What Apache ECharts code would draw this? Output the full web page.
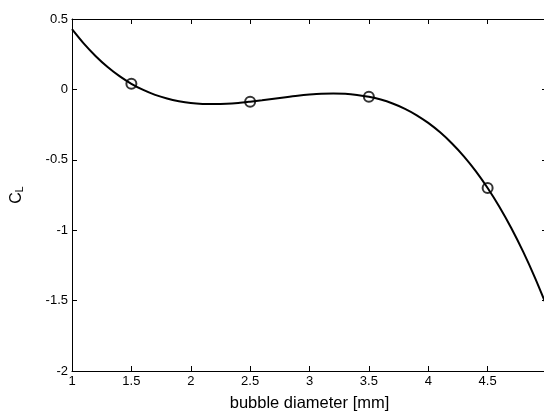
<!DOCTYPE html>
<html lang="en">
<head>
  <meta charset="UTF-8">
  <title>CL vs bubble diameter</title>
  <style>
    html, body { margin: 0; padding: 0; background: #fff; }
    #main { width: 544px; height: 414px; }
  </style>
</head>
<body>
  <div id="main"></div>
  <script src="https://cdn.jsdelivr.net/npm/echarts@6/dist/echarts.min.js"></script>
  <script>
    // curve, every 0.1 mm
    const diameter = [1.0, 1.1, 1.2, 1.3, 1.4, 1.5, 1.6, 1.7, 1.8, 1.9,
      2.0, 2.1, 2.2, 2.3, 2.4, 2.5, 2.6, 2.7, 2.8, 2.9,
      3.0, 3.1, 3.2, 3.3, 3.4, 3.5, 3.6, 3.7, 3.8, 3.9,
      4.0, 4.1, 4.2, 4.3, 4.4, 4.5, 4.6, 4.7, 4.8, 4.9, 5.0];
    const cl = [0.428, 0.325, 0.236, 0.159, 0.094, 0.040, -0.004, -0.039, -0.065, -0.084,
      -0.097, -0.103, -0.104, -0.102, -0.096, -0.087, -0.077, -0.066, -0.055, -0.045,
      -0.037, -0.031, -0.029, -0.031, -0.039, -0.052, -0.072, -0.100, -0.136, -0.182,
      -0.238, -0.305, -0.384, -0.475, -0.580, -0.700, -0.835, -0.986, -1.154, -1.340, -1.544];

    // measured points (circles)
    const pointD = [1.5, 2.5, 3.5, 4.5];
    const pointCl = [0.04, -0.087, -0.052, -0.70];

    const font = 'Liberation Sans, Arial, sans-serif';

    let myChart = echarts.init(document.getElementById('main'));

    const boxAxis = {
      axisLine: { show: true, onZero: false, lineStyle: { color: '#000', width: 1 } },
      axisTick: { show: true, inside: true, length: 5, lineStyle: { color: '#000' } },
      splitLine: { show: false }
    };

    let option = {
      animation: false,
      textStyle: { fontFamily: font },
      // plot box runs a little past the right edge of the window, like the reference
      grid: { left: 72, top: 19, width: 475, height: 352, outerBoundsMode: 'none' },
      xAxis: [
        Object.assign({
          type: 'value', min: 1, max: 5, interval: 0.5, position: 'bottom',
          axisLabel: { color: '#000', fontSize: 13, margin: 4, fontFamily: font },
          name: 'bubble diameter [mm]', nameLocation: 'middle', nameGap: 24,
          nameTextStyle: { color: '#000', fontSize: 16.5, fontFamily: font }
        }, boxAxis),
        Object.assign({
          type: 'value', min: 1, max: 5, interval: 0.5, position: 'top',
          axisLabel: { show: false }
        }, boxAxis)
      ],
      yAxis: [
        Object.assign({
          type: 'value', min: -2, max: 0.5, interval: 0.5, position: 'left',
          axisLabel: { color: '#000', fontSize: 13, margin: 4, fontFamily: font },
          name: '{c|C}{s|L}', nameLocation: 'middle', nameGap: 46, nameRotate: 90,
          nameTextStyle: {
            color: '#000', fontFamily: font,
            rich: {
              c: { fontSize: 16, fontFamily: font, color: '#000' },
              s: { fontSize: 10.5, fontFamily: font, color: '#000', padding: [8, 0, 0, 0] }
            }
          }
        }, boxAxis),
        Object.assign({
          type: 'value', min: -2, max: 0.5, interval: 0.5, position: 'right',
          axisLabel: { show: false }
        }, boxAxis)
      ],
      series: [
        {
          type: 'line',
          data: diameter.map((d, i) => [d, cl[i]]),
          showSymbol: false,
          smooth: 0.3,
          lineStyle: { color: '#000', width: 2 },
          silent: true
        },
        {
          type: 'scatter',
          data: pointD.map((d, i) => [d, pointCl[i]]),
          symbol: 'circle',
          symbolSize: 10,
          itemStyle: { color: 'rgba(255,255,255,0)', borderColor: '#000', borderWidth: 2 },
          silent: true
        }
      ]
    };
    myChart.setOption(option);
  </script>
</body>
</html>
